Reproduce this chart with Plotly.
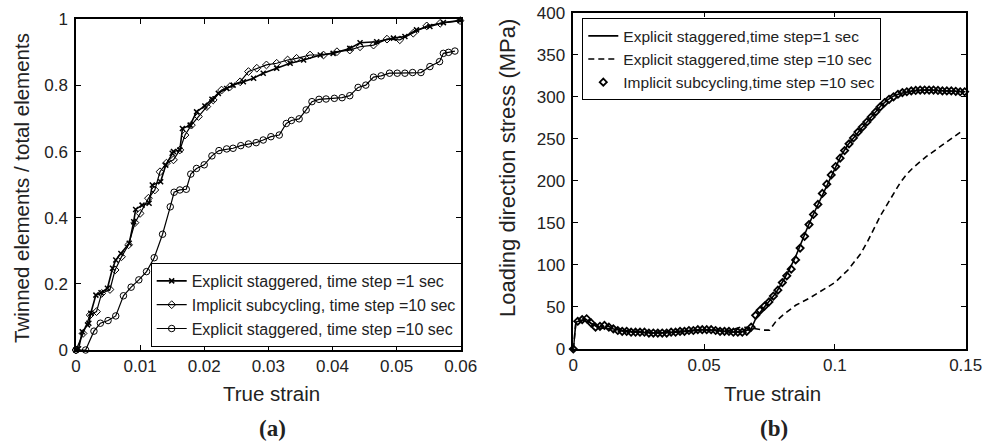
import plotly.graph_objects as go

# ---------------- Panel (a): twinned fraction vs true strain ----------------
a_exp1_strain = [0, 0.0004, 0.00098, 0.0018, 0.002, 0.0023, 0.0031, 0.0039, 0.0049, 0.0057,
                 0.0062, 0.007, 0.0083, 0.009, 0.0093, 0.0103, 0.0114, 0.0119, 0.0132, 0.014,
                 0.015, 0.0152, 0.0162, 0.0166, 0.0178, 0.0188, 0.0201, 0.0212, 0.0222, 0.0235,
                 0.0245, 0.0261, 0.0277, 0.0292, 0.0313, 0.0334, 0.0355, 0.0381, 0.0401, 0.0427,
                 0.0443, 0.0469, 0.0495, 0.0513, 0.0531, 0.0552, 0.0573, 0.0599]
a_exp1_frac = [0, 0.004, 0.055, 0.076, 0.081, 0.111, 0.166, 0.173, 0.187, 0.247,
               0.272, 0.292, 0.323, 0.388, 0.425, 0.438, 0.444, 0.499, 0.509, 0.559,
               0.595, 0.6, 0.605, 0.67, 0.68, 0.72, 0.738, 0.758, 0.776, 0.791,
               0.801, 0.811, 0.822, 0.837, 0.852, 0.867, 0.877, 0.892, 0.897, 0.912,
               0.929, 0.932, 0.943, 0.948, 0.968, 0.978, 0.99, 0.996]

a_imp_strain = [0, 0.0011, 0.0022, 0.0032, 0.004, 0.0053, 0.0061, 0.0071, 0.0082, 0.0092,
                0.01, 0.0113, 0.0123, 0.0131, 0.0141, 0.0152, 0.0162, 0.017, 0.018, 0.0191,
                0.0204, 0.0214, 0.0227, 0.024, 0.0256, 0.0269, 0.0282, 0.0297, 0.0313, 0.033,
                0.0344, 0.0365, 0.0386, 0.0407, 0.0427, 0.0443, 0.0464, 0.0485, 0.0505, 0.0526,
                0.0547, 0.0568, 0.0599]
a_imp_frac = [0, 0.05, 0.106, 0.116, 0.171, 0.183, 0.242, 0.282, 0.318, 0.385,
              0.413, 0.459, 0.484, 0.539, 0.565, 0.575, 0.605, 0.65, 0.68, 0.706,
              0.736, 0.756, 0.786, 0.796, 0.811, 0.842, 0.852, 0.862, 0.867, 0.877,
              0.882, 0.892, 0.892, 0.902, 0.907, 0.917, 0.922, 0.94, 0.938, 0.958,
              0.98, 0.988, 0.996]

a_exp10_strain = [0, 0.0015, 0.0028, 0.0038, 0.005, 0.0062, 0.0074, 0.0086, 0.0098, 0.011,
                  0.0122, 0.0135, 0.0147, 0.0153, 0.0162, 0.0172, 0.0179, 0.0188, 0.02, 0.0212,
                  0.0223, 0.0235, 0.0245, 0.0257, 0.0269, 0.0281, 0.0292, 0.0304, 0.0317, 0.0328,
                  0.0336, 0.0348, 0.0359, 0.0368, 0.0379, 0.039, 0.0403, 0.0415, 0.0427, 0.044,
                  0.0452, 0.0464, 0.0476, 0.0489, 0.0501, 0.0513, 0.0525, 0.0538, 0.0552, 0.0567,
                  0.0573, 0.0581, 0.0591]
a_exp10_frac = [0, 0, 0.057, 0.081, 0.089, 0.103, 0.164, 0.19, 0.212, 0.237,
                0.279, 0.35, 0.433, 0.477, 0.484, 0.486, 0.532, 0.549, 0.56, 0.587,
                0.603, 0.608, 0.61, 0.618, 0.623, 0.627, 0.635, 0.645, 0.65, 0.685,
                0.694, 0.699, 0.726, 0.751, 0.758, 0.759, 0.761, 0.763, 0.769, 0.794,
                0.801, 0.825, 0.829, 0.837, 0.837, 0.837, 0.839, 0.839, 0.857, 0.872,
                0.897, 0.9, 0.904]

# ---------------- Panel (b): loading direction stress vs true strain ----------------
b_exp1_strain = [0, 0.001, 0.003, 0.005, 0.007, 0.01, 0.015, 0.02, 0.03, 0.04,
                 0.05, 0.055, 0.06, 0.065, 0.068, 0.07, 0.0725, 0.075, 0.0775, 0.08,
                 0.0825, 0.085, 0.0875, 0.09, 0.0925, 0.095, 0.0975, 0.1, 0.1025, 0.105,
                 0.1075, 0.11, 0.1125, 0.115, 0.1175, 0.12, 0.1225, 0.125, 0.13, 0.135,
                 0.14, 0.145, 0.15]
b_exp1_stress = [0, 32, 34, 35, 30, 25, 24, 21, 19, 20,
                 23, 22, 20, 21, 24, 38, 48, 57, 67, 80,
                 94, 110, 130, 148, 165, 182, 199, 216, 231, 243,
                 253, 262, 271, 280, 289, 296, 301, 304, 307, 308,
                 307.5, 307, 306]

b_exp10_strain = [0, 0.001, 0.003, 0.005, 0.007, 0.01, 0.012, 0.015, 0.02, 0.03,
                  0.04, 0.05, 0.06, 0.064, 0.068, 0.07, 0.0725, 0.075, 0.0775, 0.08,
                  0.085, 0.09, 0.095, 0.1, 0.105, 0.11, 0.1125, 0.115, 0.1175, 0.12,
                  0.1225, 0.125, 0.1275, 0.13, 0.135, 0.14, 0.145, 0.148]
b_exp10_stress = [0, 32, 34, 35, 30, 26, 29, 25, 22, 20,
                  21, 23, 22, 26, 25, 24, 22.5, 22.5, 33, 40,
                  52, 60, 69, 79, 94, 114, 128, 143, 159, 172,
                  185, 198, 208, 216, 229, 240, 252, 258]

b_imp_strain = [0, 0.0017, 0.0034, 0.0051, 0.0068, 0.0085, 0.0102, 0.0119, 0.0136, 0.0153,
                0.017, 0.0187, 0.0204, 0.0221, 0.0238, 0.0255, 0.0272, 0.0289, 0.0306, 0.0323,
                0.034, 0.0357, 0.0374, 0.0391, 0.0408, 0.0425, 0.0442, 0.0459, 0.0476, 0.0493,
                0.051, 0.0527, 0.0544, 0.0561, 0.0578, 0.0595, 0.0612, 0.0629, 0.0646, 0.0663,
                0.068, 0.0697, 0.0714, 0.0731, 0.0748, 0.0765, 0.0782, 0.0799, 0.0816, 0.0833,
                0.085, 0.0867, 0.0884, 0.0901, 0.0918, 0.0935, 0.0952, 0.0969, 0.0986, 0.1003,
                0.102, 0.1037, 0.1054, 0.1071, 0.1088, 0.1105, 0.1122, 0.1139, 0.1156, 0.1173,
                0.119, 0.1207, 0.1224, 0.1241, 0.1258, 0.1275, 0.1292, 0.1309, 0.1326, 0.1343,
                0.136, 0.1377, 0.1394, 0.1411, 0.1428, 0.1445, 0.1462, 0.1479, 0.1496]
b_imp_stress = [0, 33, 35, 36, 31, 26, 27, 28, 26, 24,
                22, 21, 21, 20, 20, 20, 20, 19, 19, 19,
                19, 19, 20, 20, 21, 21, 22, 22, 23, 23,
                23, 23, 22, 21, 21, 21, 20, 20, 20, 21,
                26, 40, 46, 51, 56, 63, 70, 79, 87, 95,
                106, 120, 134, 148, 160, 172, 185, 196, 207, 217,
                227, 236, 244, 251, 258, 264, 270, 276, 282, 288,
                293, 297, 300, 303, 305, 306, 307, 307.5, 308, 308,
                308, 308, 307.5, 307, 307, 307, 306.5, 306, 306]

a_xticks = [0, 0.01, 0.02, 0.03, 0.04, 0.05, 0.06]
a_yticks = [0, 0.2, 0.4, 0.6, 0.8, 1]
b_xticks = [0, 0.05, 0.1, 0.15]
b_yticks = [0, 50, 100, 150, 200, 250, 300, 350, 400]

W, H = 989, 444
FONT = "Liberation Sans, Arial, Helvetica, sans-serif"


def px_x(p):
    return p / W


def px_y(p):
    return 1 - p / H


fig = go.Figure()

# panel (a)
fig.add_trace(go.Scatter(x=a_exp1_strain, y=a_exp1_frac, mode="lines+markers",
                         name="Explicit staggered, time step =1 sec", legend="legend",
                         line=dict(color="black", width=1.6),
                         marker=dict(symbol="x-thin-open", size=5, color="black",
                                     line=dict(color="black", width=1.5)),
                         cliponaxis=False, xaxis="x", yaxis="y"))
fig.add_trace(go.Scatter(x=a_imp_strain, y=a_imp_frac, mode="lines+markers",
                         name="Implicit subcycling, time step =10 sec", legend="legend",
                         line=dict(color="black", width=1.2),
                         marker=dict(symbol="diamond-open", size=6, color="black",
                                     line=dict(color="black", width=1)),
                         cliponaxis=False, xaxis="x", yaxis="y"))
fig.add_trace(go.Scatter(x=a_exp10_strain, y=a_exp10_frac, mode="lines+markers",
                         name="Explicit staggered, time step =10 sec", legend="legend",
                         line=dict(color="black", width=1.2),
                         marker=dict(symbol="circle-open", size=6.5, color="black",
                                     line=dict(color="black", width=1)),
                         cliponaxis=False, xaxis="x", yaxis="y"))

# panel (b)
fig.add_trace(go.Scatter(x=b_exp1_strain, y=b_exp1_stress, mode="lines",
                         name="Explicit staggered,time step=1 sec", legend="legend2",
                         line=dict(color="black", width=1.6),
                         cliponaxis=False, xaxis="x2", yaxis="y2"))
fig.add_trace(go.Scatter(x=b_exp10_strain, y=b_exp10_stress, mode="lines",
                         name="Explicit staggered,time step =10 sec", legend="legend2",
                         line=dict(color="black", width=1.6, dash="6px,4px"),
                         cliponaxis=False, xaxis="x2", yaxis="y2"))
fig.add_trace(go.Scatter(x=b_imp_strain, y=b_imp_stress, mode="markers",
                         name="Implicit subcycling,time step =10 sec", legend="legend2",
                         marker=dict(symbol="diamond-open", size=5.5, color="black",
                                     line=dict(color="black", width=1.8)),
                         cliponaxis=False, xaxis="x2", yaxis="y2"))

axis_common = dict(showline=True, linecolor="black", linewidth=1.5, mirror="allticks",
                   ticks="inside", ticklen=5, tickwidth=1, tickcolor="black",
                   showgrid=False, zeroline=False, automargin=False,
                   tickfont=dict(family=FONT, size=17, color="#222"))

fig.update_layout(
    width=W, height=H,
    margin=dict(l=0, r=0, t=0, b=0, pad=0),
    paper_bgcolor="white", plot_bgcolor="white",
    font=dict(family=FONT, color="#222"),
    xaxis=dict(domain=[px_x(76), px_x(460.7)], range=[0, 0.06], tickvals=a_xticks,
               anchor="y", ticklabelstandoff=0, **axis_common),
    yaxis=dict(domain=[px_y(350), px_y(19.3)], range=[0, 1], tickvals=a_yticks,
               anchor="x", ticklabelstandoff=3, **axis_common),
    xaxis2=dict(domain=[px_x(573.3), px_x(965.7)], range=[0, 0.15], tickvals=b_xticks,
                anchor="y2", ticklabelstandoff=0, **axis_common),
    yaxis2=dict(domain=[px_y(349), px_y(12.7)], range=[0, 400], tickvals=b_yticks,
                anchor="x2", ticklabelstandoff=3, **axis_common),
    legend=dict(x=px_x(461.7), y=px_y(347), xanchor="right", yanchor="bottom",
                bordercolor="black", borderwidth=1, bgcolor="white",
                font=dict(family=FONT, size=16, color="#222"), tracegroupgap=0),
    legend2=dict(x=px_x(582.3), y=px_y(18.3), xanchor="left", yanchor="top",
                 bordercolor="black", borderwidth=1, bgcolor="white",
                 font=dict(family=FONT, size=15.5, color="#222"), tracegroupgap=0),
    showlegend=True,
)

ann = [
    dict(text="True strain", x=px_x(271), y=px_y(393), size=20.5, angle=0),
    dict(text="True strain", x=px_x(772), y=px_y(393), size=20.5, angle=0),
    dict(text="Twinned elements / total elements", x=px_x(21), y=px_y(188), size=20.5, angle=-90),
    dict(text="Loading direction stress (MPa)", x=px_x(507), y=px_y(168), size=22, angle=-90),
]
for a in ann:
    fig.add_annotation(text=a["text"], x=a["x"], y=a["y"], xref="paper", yref="paper",
                       xanchor="center", yanchor="middle", showarrow=False,
                       textangle=a["angle"], font=dict(family=FONT, size=a["size"], color="#222"))

for lab, xc in [("(a)", 272), ("(b)", 774)]:
    fig.add_annotation(text="<b>" + lab + "</b>", x=px_x(xc), y=px_y(428), xref="paper",
                       yref="paper", xanchor="center", yanchor="middle", showarrow=False,
                       font=dict(family="Liberation Serif, Times New Roman, serif", size=23,
                                 color="#222"))

page_fix = ("document.documentElement.style.margin='0';document.documentElement.style.padding='0';"
            "document.documentElement.style.overflow='hidden';"
            "document.body.style.margin='0';document.body.style.padding='0';"
            "document.body.style.overflow='hidden';")
fig.write_html("out.html", post_script=page_fix, config={"displayModeBar": False})
